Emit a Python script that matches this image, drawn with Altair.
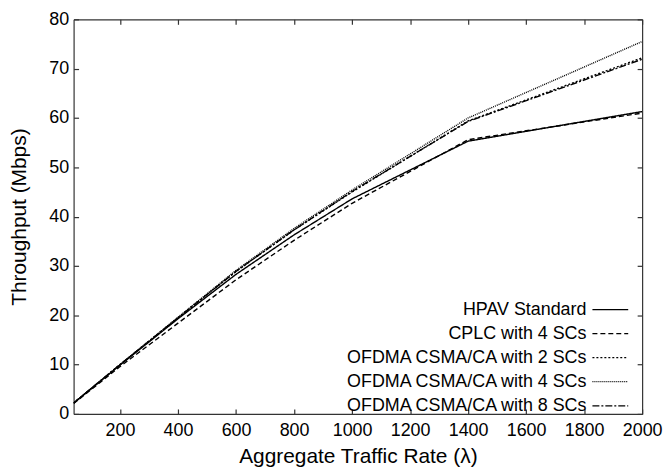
import altair as alt
import pandas as pd

rates = [40, 200, 400, 600, 800, 1000, 1400, 2000]
series = ["HPAV Standard", "CPLC with 4 SCs", "OFDMA CSMA/CA with 2 SCs",
          "OFDMA CSMA/CA with 4 SCs", "OFDMA CSMA/CA with 8 SCs"]
hpav = [2.2, 9.9, 19.3, 28.3, 36.3, 43.6, 55.3, 61.3]
cplc = [2.1, 9.6, 18.4, 27.2, 35.2, 42.7, 55.6, 61.0]
ofdma2 = [2.2, 10.0, 19.5, 28.9, 37.3, 45.0, 59.4, 72.2]
ofdma4 = [2.2, 10.0, 19.6, 29.1, 37.6, 45.4, 60.0, 75.5]
ofdma8 = [2.2, 10.0, 19.5, 28.9, 37.3, 45.1, 59.3, 71.9]
x_ticks = [200, 400, 600, 800, 1000, 1200, 1400, 1600, 1800, 2000]
y_ticks = [0, 10, 20, 30, 40, 50, 60, 70, 80]

rows = []
for name, vals in zip(series, [hpav, cplc, ofdma2, ofdma4, ofdma8]):
    for r, v in zip(rates, vals):
        rows.append({"rate": r, "tp": v, "series": name})
df = pd.DataFrame(rows)

dashes = [[1, 0], [5, 3], [2, 2], [1, 1], [7, 2, 2, 2]]
FONT = "Liberation Sans"

xscale = alt.Scale(domain=[40, 2000], nice=False, zero=False)
yscale = alt.Scale(domain=[0, 80], nice=False)

tick_in = alt.ExprRef("-5")

lines = alt.Chart(df).mark_line(color="black", strokeWidth=1.4, clip=True).encode(
    x=alt.X("rate:Q", scale=xscale,
            axis=alt.Axis(values=x_ticks, title="Aggregate Traffic Rate (λ)", format="d",
                          labelOverlap=False, labelFlush=False,
                          tickSize=tick_in, labelPadding=13, titlePadding=6)),
    y=alt.Y("tp:Q", scale=yscale,
            axis=alt.Axis(values=y_ticks, title="Throughput (Mbps)", format="d",
                          labelOverlap=False, labelFlush=False,
                          tickSize=tick_in, labelPadding=10, titlePadding=19)),
    strokeDash=alt.StrokeDash(
        "series:N", sort=series,
        scale=alt.Scale(domain=series, range=dashes),
        legend=alt.Legend(
            title=None, orient="none", legendX=530, legendY=282,
            symbolType="M-2,0H2", symbolSize=324, symbolStrokeWidth=1.3,
            symbolStrokeColor="black", symbolFillColor="transparent",
            labelAlign="right",
            labelOffset=alt.ExprRef("-34"),
            labelFontSize=18, labelFont=FONT, labelColor="black",
            rowPadding=5.2, padding=0, labelLimit=400,
        ),
    ),
)

mirror = alt.Chart(df).mark_point(opacity=0).encode(
    x=alt.X("rate:Q", scale=xscale,
            axis=alt.Axis(orient="top", values=x_ticks, labels=False, title=None,
                          tickSize=tick_in)),
    y=alt.Y("tp:Q", scale=yscale,
            axis=alt.Axis(orient="right", values=y_ticks, labels=False, title=None,
                          tickSize=tick_in)),
)

chart = alt.layer(lines, mirror).resolve_axis(x="independent", y="independent").properties(
    width=572, height=397,
    autosize=alt.AutoSizeParams(type="none"),
    padding={"left": 66, "top": 10, "right": 21, "bottom": 52},
    background="white",
).configure_view(stroke=None).configure_axis(
    grid=False, labelFont=FONT, titleFont=FONT, labelFontSize=18, titleFontSize=21,
    titleFontWeight="normal", labelColor="black", titleColor="black",
    domainColor="#333333", tickColor="#333333", domainWidth=1.2, tickWidth=1.2,
)

chart.save("out.html", embed_options={"renderer": "svg", "actions": False})
